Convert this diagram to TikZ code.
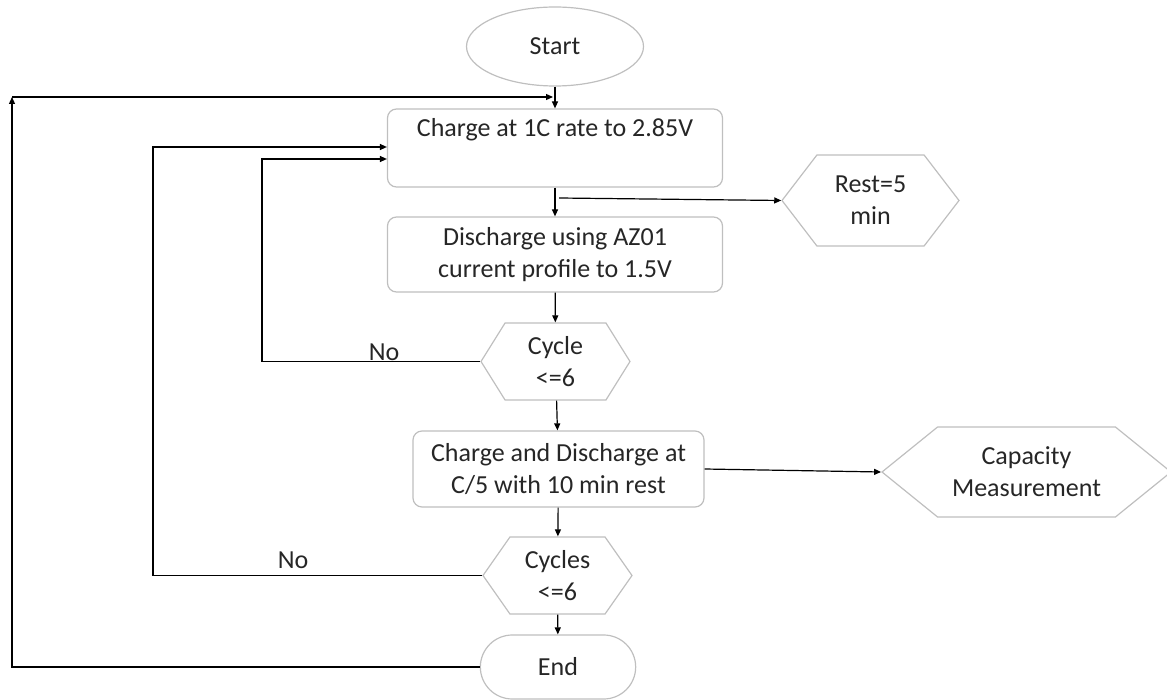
\documentclass[tikz,border=0pt]{standalone}
\usepackage{fontspec}
\setmainfont{Carlito}
\usetikzlibrary{shapes.geometric,shapes.misc,shapes.symbols,arrows.meta}
\definecolor{edgegray}{HTML}{BFBFBF}
\definecolor{txt}{HTML}{262626}
\begin{document}
\begin{tikzpicture}[x=1pt, y=-1pt,
  every node/.style={font=\fontsize{26}{32}\selectfont, text=txt, align=center},
  box/.style={draw=edgegray, line width=1.2pt, rounded corners=9pt, minimum width=335pt, minimum height=78pt},
  hexa/.style={draw=edgegray, line width=1.2pt, signal, signal to=east and west, inner sep=0pt},
  arr/.style={line width=1.2pt, -{Triangle[length=7pt,width=6pt]}},
  link/.style={line width=1.2pt}]
  \useasboundingbox (0,0) rectangle (1167,700);
  \node [ellipse, draw=edgegray, line width=1.2pt, minimum width=177pt, minimum height=79pt] (start) at (555,46.5) {Start};
  \node [box] (charge) at (555,148) {Charge at 1C rate to 2.85V\\ \strut};
  \node [box, minimum height=75pt] (discharge) at (555,254.5) {Discharge using AZ01\\current profile to 1.5V};
  \node [hexa, signal pointer angle=116, minimum width=149pt, minimum height=77pt] (cycle) at (555.5,361.5) {Cycle\\<=6};
  \node [box, minimum width=291pt, minimum height=76pt] (cd) at (558.5,469) {Charge and Discharge at\\C/5 with 10 min rest};
  \node [hexa, signal pointer angle=110, minimum width=149pt, minimum height=77pt] (cycles) at (557.5,575.5) {Cycles\\<=6};
  \node [rounded rectangle, draw=edgegray, line width=1.2pt, minimum width=162pt, minimum height=64pt] (end) at (558,667) {End};
  \node [hexa, signal pointer angle=105, minimum width=177pt, minimum height=91pt] (rest) at (870.5,200.5) {Rest=5\\min};
  \node [hexa, signal pointer angle=78, minimum width=289pt, minimum height=90pt] (cap) at (1026.5,472) {Capacity\\Measurement};
  \node (no1) at (384,352) {No};
  \node (no2) at (293,560) {No};
  % main flow
  \draw [arr] (start) -- (charge);
  \draw [arr] (charge) -- (discharge);
  \draw [arr] (discharge) -- (cycle);
  \draw [arr] (cycle) -- (cd);
  \draw [arr] (cd) -- (cycles);
  \draw [arr] (cycles) -- (end);
  % side outputs
  \coordinate (br) at (559,198);
  \draw [arr] (br) -- (rest.west);
  \draw [arr] (cd.east) -- (cap.west);
  % loops back
  \coordinate (outer) at (12,97);
  \coordinate (join) at (553,97);
  \draw [arr] (end.west) -| (outer);
  \draw [arr] (outer) -- (join);
  \coordinate (mid) at (153,147);
  \draw [arr] (cycles.west) -| (mid) -- (mid -| charge.west);
  \coordinate (inner) at (262,159);
  \draw [arr] (cycle.west) -| (inner) -- (inner -| charge.west);
\end{tikzpicture}
\end{document}
